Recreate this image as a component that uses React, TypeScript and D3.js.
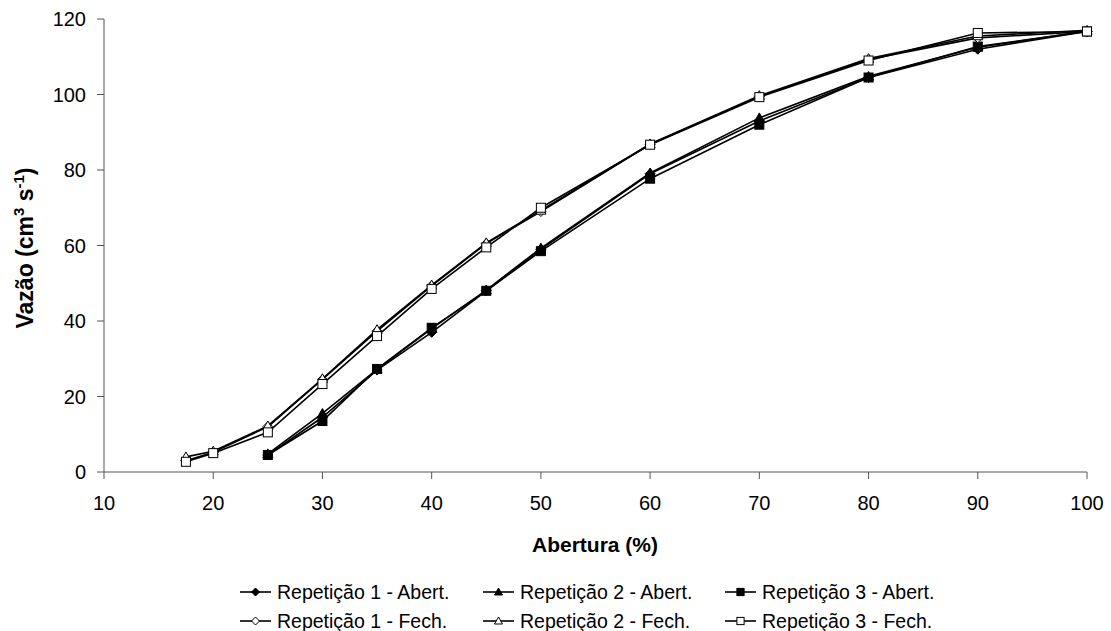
import React from "react";
import * as d3 from "d3";

const xValues = [17.5, 20, 25, 30, 35, 40, 45, 50, 60, 70, 80, 90, 100];
const rep1Abert = [null, null, 4.5, 14.5, 27, 37, 48, 59, 79, 93, 104.5, 112, 116.7];
const rep2Abert = [null, null, 4.8, 15.5, 27.2, 38, 48.2, 59.3, 79.2, 93.8, 104.8, 112.5, 116.8];
const rep3Abert = [null, null, 4.5, 13.5, 27.3, 38.2, 48, 58.5, 77.7, 92, 104.5, 112.7, 116.7];
const rep1Fech = [3, 5.2, 12, 24.5, 37.3, 49.3, 60.5, 69, 86.8, 99.5, 109.3, 115, 116.7];
const rep2Fech = [4, 5.5, 12.2, 24.7, 37.7, 49.5, 60.7, 69.3, 86.9, 99.7, 109.5, 115.5, 117];
const rep3Fech = [2.7, 5, 10.5, 23.3, 36, 48.5, 59.5, 70, 86.7, 99.3, 109, 116.3, 116.7];

const xTicks = [10, 20, 30, 40, 50, 60, 70, 80, 90, 100];
const yTicks = [0, 20, 40, 60, 80, 100, 120];

type Shape = "diamond" | "triangle" | "square";
const seriesList: { name: string; values: (number | null)[]; shape: Shape; filled: boolean }[] = [
  { name: "Repetição 1 - Abert.", values: rep1Abert, shape: "diamond", filled: true },
  { name: "Repetição 2 - Abert.", values: rep2Abert, shape: "triangle", filled: true },
  { name: "Repetição 3 - Abert.", values: rep3Abert, shape: "square", filled: true },
  { name: "Repetição 1 - Fech.", values: rep1Fech, shape: "diamond", filled: false },
  { name: "Repetição 2 - Fech.", values: rep2Fech, shape: "triangle", filled: false },
  { name: "Repetição 3 - Fech.", values: rep3Fech, shape: "square", filled: false },
];

const FONT = "'Liberation Sans', Arial, sans-serif";

function Marker({ shape, filled, x, y, s = 1 }: { shape: Shape; filled: boolean; x: number; y: number; s?: number }) {
  const fill = filled ? "#000" : "#fff";
  if (shape === "square") {
    const h = 4.5 * s;
    return <rect x={x - h} y={y - h} width={2 * h} height={2 * h} fill={fill} stroke="#000" strokeWidth={1} />;
  }
  if (shape === "diamond") {
    const h = 5 * s;
    return <path d={`M${x},${y - h}L${x + h},${y}L${x},${y + h}L${x - h},${y}Z`} fill={fill} stroke="#000" strokeWidth={1} />;
  }
  const h = 5 * s;
  return <path d={`M${x},${y - h}L${x + h},${y + h * 0.75}L${x - h},${y + h * 0.75}Z`} fill={fill} stroke="#000" strokeWidth={1} />;
}

export default function App() {
  const W = 1111, H = 631;
  const x = d3.scaleLinear().domain([10, 100]).range([104, 1087]);
  const y = d3.scaleLinear().domain([0, 120]).range([472, 19]);
  const axisColor = "#555";

  const line = d3
    .line<[number, number | null]>()
    .defined((d) => d[1] !== null)
    .x((d) => x(d[0]))
    .y((d) => y(d[1] as number));

  const legendCols = [240, 483, 725];
  const legendRows = [592, 621];

  return (
    <svg width={W} height={H} style={{ position: "absolute", left: 0, top: 0 }} fontFamily={FONT}>
      <rect width={W} height={H} fill="#fff" />
      {/* axes */}
      <line x1={x(10)} x2={x(100)} y1={y(0)} y2={y(0)} stroke={axisColor} strokeWidth={1} />
      <line x1={x(10)} x2={x(10)} y1={y(0)} y2={y(120)} stroke={axisColor} strokeWidth={1} />
      {xTicks.map((t) => (
        <g key={"xt" + t}>
          <line x1={x(t)} x2={x(t)} y1={y(0)} y2={y(0) + 7} stroke={axisColor} />
          <text x={x(t)} y={y(0) + 38} textAnchor="middle" fontSize={20} fill="#000">{t}</text>
        </g>
      ))}
      {yTicks.map((t) => (
        <g key={"yt" + t}>
          <line x1={x(10) - 7} x2={x(10)} y1={y(t)} y2={y(t)} stroke={axisColor} />
          <text x={x(10) - 18} y={y(t)} dy="0.35em" textAnchor="end" fontSize={20} fill="#000">{t}</text>
        </g>
      ))}
      <text x={595} y={552} textAnchor="middle" fontSize={21} fontWeight="bold">Abertura (%)</text>
      <text transform={`translate(33,248) rotate(-90)`} textAnchor="middle" fontSize={23} fontWeight="bold">
        Vazão (cm<tspan dy="-9" fontSize={15}>3</tspan><tspan dy="9"> s</tspan><tspan dy="-9" fontSize={15}>-1</tspan><tspan dy="9">)</tspan>
      </text>
      {/* series */}
      {seriesList.map((s) => {
        const pts = xValues.map((xv, i) => [xv, s.values[i]] as [number, number | null]);
        return (
          <g key={s.name}>
            <path d={line(pts) || ""} fill="none" stroke="#000" strokeWidth={1.6} />
            {pts.filter((p) => p[1] !== null).map((p, i) => (
              <Marker key={i} shape={s.shape} filled={s.filled} x={x(p[0])} y={y(p[1] as number)} />
            ))}
          </g>
        );
      })}
      {/* legend */}
      {seriesList.map((s, i) => {
        const cx = legendCols[i % 3];
        const cy = legendRows[Math.floor(i / 3)];
        return (
          <g key={"lg" + i}>
            <line x1={cx} x2={cx + 31} y1={cy} y2={cy} stroke="#000" strokeWidth={1.6} />
            <Marker shape={s.shape} filled={s.filled} x={cx + 15.5} y={cy} s={0.8} />
            <text x={cx + 37} y={cy} dy="0.35em" fontSize={19.5} fill="#000">{s.name}</text>
          </g>
        );
      })}
    </svg>
  );
}
